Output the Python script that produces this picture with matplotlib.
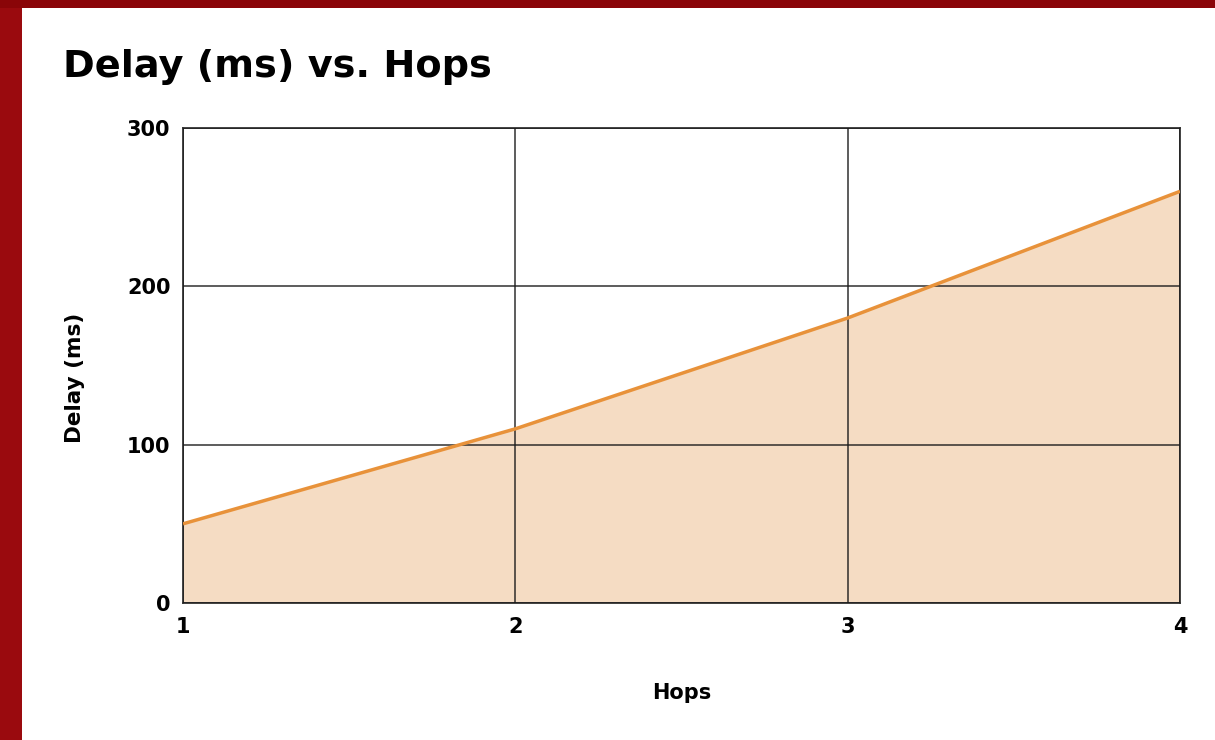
import matplotlib
matplotlib.use("Agg")
import matplotlib.pyplot as plt
from matplotlib.patches import Rectangle

hops = [1, 2, 3, 4]
delay_ms = [50, 110, 180, 260]
y_ticks = [0, 100, 200, 300]

plt.rcParams["font.family"] = ["DejaVu Sans"]

fig = plt.figure(figsize=(12.15, 7.4), dpi=100)
fig.patch.set_facecolor("white")

# red frame on left and top
fig.patches.append(Rectangle((0, 0), 22 / 1215, 1, transform=fig.transFigure,
                             facecolor="#9a0a0e", edgecolor="none", zorder=0))
fig.patches.append(Rectangle((0, 1 - 8 / 740), 1, 8 / 740, transform=fig.transFigure,
                             facecolor="#8a0508", edgecolor="none", zorder=0))

ax = fig.add_axes([183 / 1215, 1 - 603 / 740, (1180 - 183) / 1215, (603 - 128) / 740])

ax.fill_between(hops, delay_ms, 0, color="#f5dcc3", linewidth=0, zorder=1)
ax.plot(hops, delay_ms, color="#e8923a", linewidth=2.5, solid_joinstyle="round",
        solid_capstyle="butt", zorder=3)

ax.set_xlim(1, 4)
ax.set_ylim(0, 300)
ax.set_xticks(hops)
ax.set_yticks(y_ticks)
ax.grid(True, color="#1a1a1a", linewidth=1.1, alpha=0.9, zorder=2)
ax.set_axisbelow(False)
for s in ax.spines.values():
    s.set_color("#333333")
    s.set_linewidth(1.3)
ax.tick_params(length=0, labelsize=15)
ax.tick_params(axis="x", pad=10)
ax.tick_params(axis="y", pad=9)
for lab in ax.get_xticklabels() + ax.get_yticklabels():
    lab.set_fontweight("bold")

ax.set_xlabel("Hops", fontsize=15, fontweight="bold", labelpad=33)
ax.set_ylabel("Delay (ms)", fontsize=15.5, fontweight="bold", va="center")
ax.yaxis.set_label_coords(-0.108, 0.474)

fig.text(63 / 1215, 1 - 67 / 740, "Delay (ms) vs. Hops", fontsize=27.5, fontweight="bold",
         ha="left", va="center")

fig.savefig("out.png", dpi=100)
